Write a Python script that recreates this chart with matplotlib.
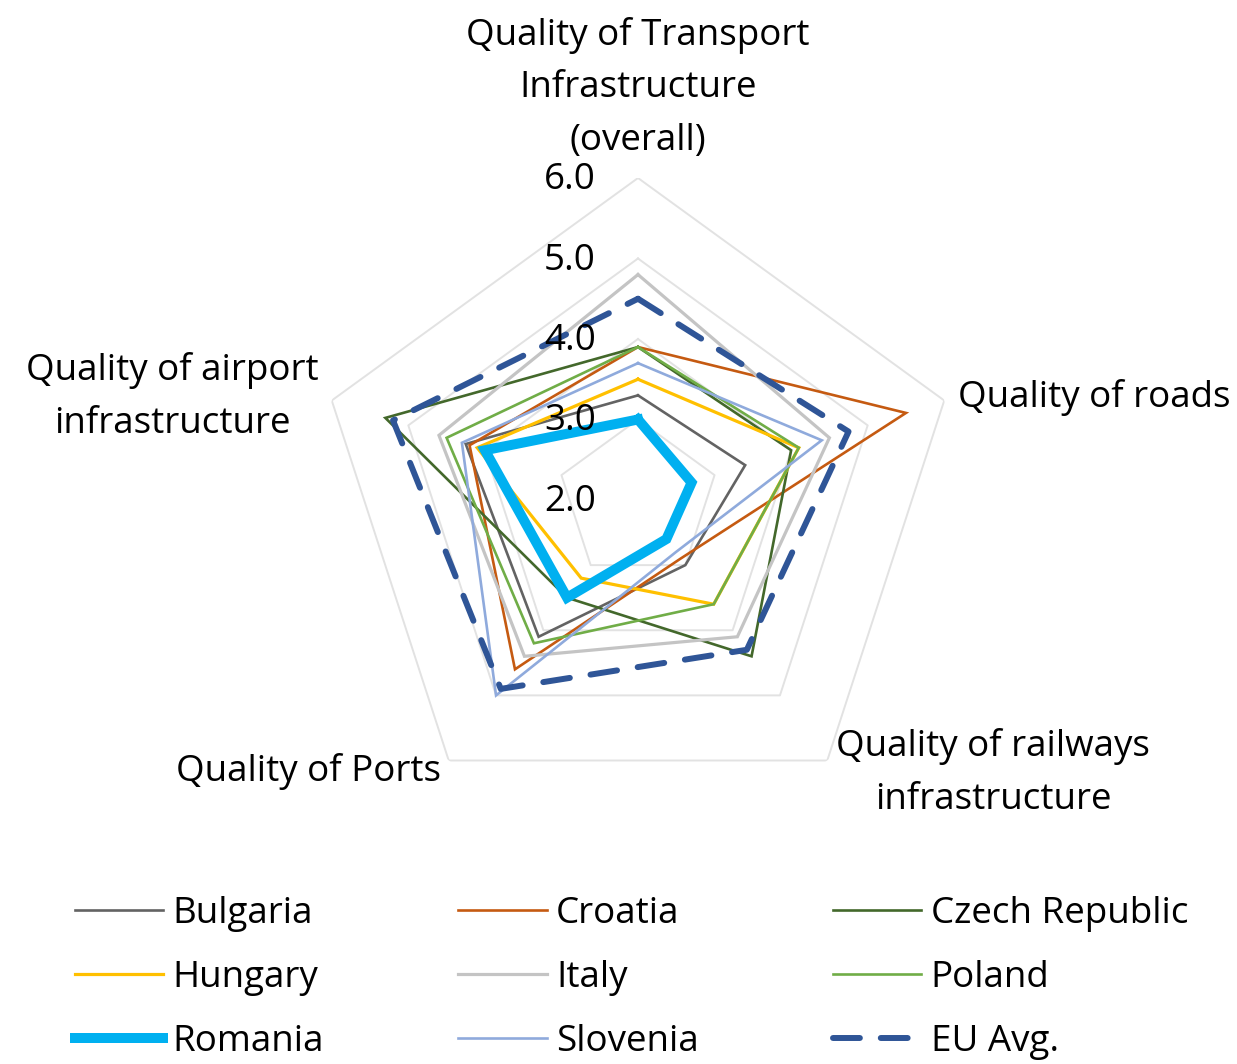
import numpy as np
import matplotlib
matplotlib.use("Agg")
import matplotlib.pyplot as plt
from matplotlib.transforms import offset_copy

plt.rcParams['font.family'] = ['Open Sans', 'DejaVu Sans']

categories = ["Quality of Transport\nInfrastructure\n(overall)", "Quality of roads",
              "Quality of railways\ninfrastructure", "Quality of Ports",
              "Quality of airport\ninfrastructure"]

bulgaria = [3.3, 3.4, 3.0, 4.1, 4.25]
croatia = [3.9, 5.5, 2.9, 4.6, 4.2]
czech = [3.9, 4.0, 4.4, 3.5, 5.3]
hungary = [3.5, 4.1, 3.6, 3.2, 4.1]
italy = [4.8, 4.5, 4.1, 4.4, 4.6]
poland = [3.9, 4.1, 3.6, 4.2, 4.5]
romania = [3.0, 2.7, 2.6, 3.5, 4.0]
slovenia = [3.7, 4.4, 2.8, 5.0, 4.3]
eu_avg = [4.5, 4.75, 4.3, 4.9, 5.2]

r_ticks = [2.0, 3.0, 4.0, 5.0, 6.0]

series = [
    ("Bulgaria", bulgaria, "#636363", 1.9, "-"),
    ("Croatia", croatia, "#C55A11", 1.9, "-"),
    ("Czech Republic", czech, "#43682B", 1.9, "-"),
    ("Hungary", hungary, "#FFC000", 2.3, "-"),
    ("Italy", italy, "#C4C4C4", 2.3, "-"),
    ("Poland", poland, "#70AD47", 1.9, "-"),
    ("Romania", romania, "#00B0F0", 7.2, "-"),
    ("Slovenia", slovenia, "#8FAADC", 1.9, "-"),
    ("EU Avg.", eu_avg, "#2F5597", 4.3, "--"),
]

W, H = 1237, 1064
fig = plt.figure(figsize=(W / 100, H / 100), dpi=100)
cx, cy, R = 638, 500, 322
ax = fig.add_axes([(cx - R) / W, (H - cy - R) / H, 2 * R / W, 2 * R / H], projection='polar')
ax.set_theta_offset(np.pi / 2)
ax.set_theta_direction(-1)
ax.set_ylim(2, 6)
ax.grid(False)
ax.spines['polar'].set_visible(False)
ax.set_xticks([])
ax.set_yticks([])
ax.patch.set_alpha(0)

n = len(categories)
theta = np.linspace(0, 2 * np.pi, n, endpoint=False)
theta_c = np.append(theta, theta[0])

# pentagon gridlines
for t in r_ticks[1:]:
    ax.plot(theta_c, [t] * (n + 1), color="#E2E2E2", lw=1.4, zorder=1)

handles = {}
for name, vals, col, lw, ls in series:
    v = list(vals) + [vals[0]]
    if ls == "--":
        ln, = ax.plot(theta_c, v, color=col, lw=lw, linestyle=(0, (4.5, 3.5)),
                      dash_capstyle='round', zorder=3, label=name)
    else:
        ln, = ax.plot(theta_c, v, color=col, lw=lw, zorder=2, label=name,
                      solid_joinstyle='miter')
    handles[name] = ln

fs = 26.5

# radial tick labels
trans = offset_copy(ax.transData, fig=fig, x=-42, y=-2, units='dots')
for t in r_ticks:
    ax.text(0, t, f"{t:.1f}", transform=trans, ha='right', va='center', fontsize=fs)

# category labels
fig.text(638 / W, 1 - 88 / H, categories[0], ha='center', va='center', fontsize=fs, linespacing=1.6)
fig.text(958 / W, 1 - 397 / H, categories[1], ha='left', va='center', fontsize=fs)
fig.text(993 / W, 1 - 773 / H, categories[2], ha='center', va='center', fontsize=fs, linespacing=1.6)
fig.text(308 / W, 1 - 771 / H, categories[3], ha='center', va='center', fontsize=fs)
fig.text(172 / W, 1 - 397 / H, categories[4], ha='center', va='center', fontsize=fs, linespacing=1.6)

# legend (row-wise order like Excel)
order = ["Bulgaria", "Hungary", "Romania", "Croatia", "Italy", "Slovenia",
         "Czech Republic", "Poland", "EU Avg."]
fig.legend([handles[k] for k in order], order, ncol=3, loc='upper left',
           bbox_to_anchor=(75 / W, 1 - 896 / H), frameon=False, fontsize=fs,
           handlelength=2.4, handletextpad=0.25, columnspacing=3.65,
           labelspacing=0.76, borderpad=0, borderaxespad=0)

fig.savefig("out.png", dpi=100)
